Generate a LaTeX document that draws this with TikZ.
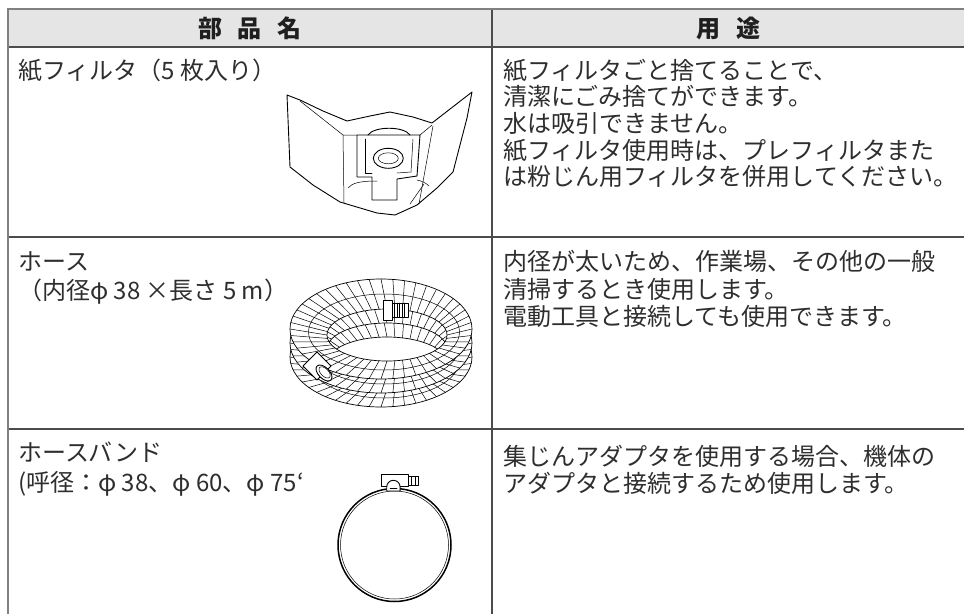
\documentclass[tikz,border=0pt]{standalone}
\usepackage{fontspec}
\setmainfont{Noto Sans CJK JP}
\definecolor{hdrfill}{gray}{0.9}
\definecolor{gridc}{gray}{0.3}
\definecolor{borderc}{gray}{0.5}
\tikzset{
  txt/.style={anchor=west, inner sep=0pt, text height=21.1pt, text depth=2.9pt, font=\fontsize{24}{27}\selectfont, text=black!82},
  hd/.style={inner sep=0pt, text height=21.1pt, text depth=2.9pt, font=\fontsize{24}{27}\selectfont\bfseries, text=black!88},
  gridline/.style={draw=gridc, line width=1.2pt},
  ink/.style={draw=black, line width=0.9pt, line join=round, line cap=round},
  fine/.style={draw=black, line width=0.5pt, line join=round, line cap=round},
}
\begin{document}
\begin{tikzpicture}[x=1pt,y=-1pt]
\useasboundingbox (0,0) rectangle (964,614);
\fill[white] (0,0) rectangle (964,614);
% table
\fill[hdrfill] (8,9) rectangle (964,47);
\draw[gridline] (8,47) -- (964,47);
\draw[gridline] (8,237) -- (964,237);
\draw[gridline] (8,429) -- (964,429);
\draw[gridline] (492,9) -- (492,614);
\draw[draw=borderc, line width=1.8pt] (8,9) -- (964,9);
\draw[draw=borderc, line width=2.6pt] (8,8) -- (8,614);
% header
\node[hd] (h1) at (250,28.5) {部\hspace{16pt}品\hspace{16pt}名};
\node[hd] (h2) at (728.5,28.5) {用\hspace{16pt}途};
% row 1
\node[txt] (a1) at (18,70) {紙フィルタ（5 枚入り）};
\node[txt] (b11) at (503,70) {紙フィルタごと捨てることで、};
\node[txt] (b12) at (503,96.7) {清潔にごみ捨てができます。};
\node[txt] (b13) at (503,123.3) {水は吸引できません。};
\node[txt] (b14) at (503,150) {紙フィルタ使用時は、プレフィルタまた};
\node[txt] (b15) at (503,176.7) {は粉じん用フィルタを併用してください。};
% row 2
\node[txt] (a21) at (18,261.5) {ホース};
\node[txt] (a22) at (18,290) {（内径φ 38 ×長さ 5 m）};
\node[txt] (b21) at (503,261.7) {内径が太いため、作業場、その他の一般};
\node[txt] (b22) at (503,289) {清掃するとき使用します。};
\node[txt] (b23) at (503,316) {電動工具と接続しても使用できます。};
% row 3
\node[txt] (a31) at (18,452) {ホースバンド};
\node[txt] (a32) at (18,482) {(呼径：φ 38、φ 60、φ 75`};
\node[txt] (b31) at (503,456) {集じんアダプタを使用する場合、機体の};
\node[txt] (b32) at (503,483) {アダプタと接続するため使用します。};

% ---------- paper filter ----------
\draw[ink, fill=white] (287,95) -- (300,100) -- (323,111) -- (347,121) -- (370,116) -- (390,112) -- (413,117) -- (432,123) -- (472,92) -- (467,118) -- (453,172) -- (437,188) -- (417,205) -- (395,215) -- (377,213) -- (340,202) -- (313,185) -- (290,167) -- cycle;
\draw[fine] (300,101) -- (343,135) -- (357,135);
\draw[fine] (420,135) -- (432,125);
\draw[fine] (343,135) -- (344,203);
\draw[fine] (433,126) -- (419,204);
\draw[fine] (424,184) -- (410,204);
\draw[fine] (348,188) .. controls (352,183) and (360,181) .. (377,181);
\draw[fine] (417,180) .. controls (422,181) and (426,183) .. (429,186);
% collar plate
\draw[ink] (357,135) -- (357,177) -- (372,177) -- (372,200) -- (397,200) -- (397,179) -- (417,176) -- (420,135) -- cycle;
\draw[ink] (368,135) .. controls (374,126) and (404,126) .. (410,135);
\draw[fine] (365,139) -- (365,173) -- (372,173);
\draw[fine] (413,139) -- (411,172) -- (397,173);
\draw[ink] (388.3,158.3) ellipse [x radius=15pt, y radius=10pt];
\draw[fine] (388.3,158.3) ellipse [x radius=10pt, y radius=5.5pt];

% ---------- hose ----------
\foreach \k in {2,1,0}{
  \pgfmathsetmacro{\cy}{329+14*\k}
  \fill[white, even odd rule] (381,\cy) ellipse [x radius=91pt, y radius=50pt] (387,\cy+6) ellipse [x radius=60pt, y radius=26pt];
  \foreach \t in {0,7.5,...,352.5}{
    \draw[fine] ({381+91*cos(\t)},{\cy+50*sin(\t)}) -- ({387+60*cos(\t)},{\cy+6+26*sin(\t)});
  }
  \draw[fine] (384,\cy+3) ellipse [x radius=75.5pt, y radius=38pt];
  \draw[draw=black, line width=0.7pt] (381,\cy) ellipse [x radius=91pt, y radius=50pt];
  \draw[draw=black, line width=0.7pt] (387,\cy+6) ellipse [x radius=60pt, y radius=26pt];
}
% back cuff
\draw[fine, fill=white] (383,300) rectangle (392,320);
\draw[fine, fill=white] (392,303) rectangle (408,317);
\foreach \xx in {394.5,397,399.5,402,404.5}{\draw[fine] (\xx,303) -- (\xx,317);}
% front end
\draw[ink, fill=white] (331,366) -- (317,352) -- (303,366) -- (317,380) -- cycle;
\draw[ink, fill=white] (324,373) ellipse [x radius=9.9pt, y radius=5.5pt, rotate=-45];
\draw[fine] (324.6,372.4) ellipse [x radius=7pt, y radius=3.8pt, rotate=-45];

% ---------- hose band ----------
\draw[draw=black, line width=1.5pt] (394.5,545) circle [radius=56.5pt];
\draw[draw=black, line width=0.5pt] (394.5,545) circle [radius=54pt];
\draw[fine, fill=white] (381,474.3) rectangle (408.3,486.7);
\draw[fine, fill=white] (408.3,476.7) rectangle (418.3,485.7);
\draw[fine] (411.6,476.7) -- (411.6,485.7);
\draw[fine] (415,476.7) -- (415,485.7);
\draw[ink, fill=white] (386.7,491) -- (386.7,487) arc [start angle=180, end angle=0, radius=6.7pt] -- (400.1,491) -- cycle;
\draw[fine] (390,488.5) -- (397,488.5);
\end{tikzpicture}
\end{document}
